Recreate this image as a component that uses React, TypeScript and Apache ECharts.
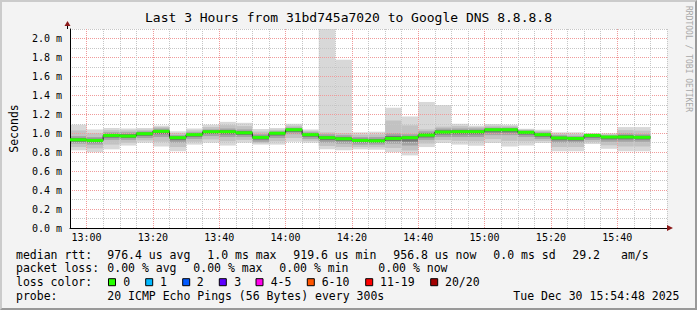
import React, { useEffect, useRef } from 'react';
import * as echarts from 'echarts';

// ---------- data ----------
const stepStarts = [
  '12:55', '13:00', '13:05', '13:10', '13:15', '13:20', '13:25', '13:30', '13:35', '13:40',
  '13:45', '13:50', '13:55', '14:00', '14:05', '14:10', '14:15', '14:20', '14:25', '14:30',
  '14:35', '14:40', '14:45', '14:50', '14:55', '15:00', '15:05', '15:10', '15:15', '15:20',
  '15:25', '15:30', '15:35', '15:40', '15:45',
];
// round-trip times in ms
const rttMin = [
  0.82, 0.80, 0.83, 0.87, 0.90, 0.86, 0.81, 0.88, 0.90, 0.87,
  0.90, 0.88, 0.88, 0.91, 0.90, 0.83, 0.82, 0.83, 0.826, 0.80,
  0.766, 0.854, 0.897, 0.88, 0.868, 0.897, 0.86, 0.87, 0.897, 0.81,
  0.81, 0.886, 0.836, 0.81, 0.81,
];
const rttLow = [
  0.89, 0.88, 0.93, 0.93, 0.95, 0.96, 0.90, 0.94, 0.97, 0.96,
  0.96, 0.91, 0.95, 0.99, 0.94, 0.90, 0.89, 0.88, 0.88, 0.89,
  0.87, 0.93, 0.96, 0.96, 0.96, 0.98, 0.98, 0.96, 0.94, 0.90,
  0.90, 0.93, 0.91, 0.91, 0.91,
];
const rttMedian = [
  0.931, 0.924, 0.977, 0.97, 0.995, 1.02, 0.953, 0.985, 1.016, 1.016,
  1.005, 0.956, 1.0, 1.037, 0.985, 0.953, 0.942, 0.924, 0.92, 0.945,
  0.953, 0.98, 1.013, 1.016, 1.016, 1.037, 1.037, 1.01, 0.985, 0.95,
  0.945, 0.977, 0.96, 0.96, 0.957,
];
const rttHigh = [
  0.97, 0.96, 1.01, 1.01, 1.02, 1.05, 0.98, 1.01, 1.04, 1.05,
  1.04, 0.99, 1.02, 1.06, 1.01, 0.99, 0.98, 0.96, 0.96, 1.0,
  0.99, 1.02, 1.05, 1.05, 1.05, 1.06, 1.06, 1.03, 1.01, 0.98,
  0.97, 0.99, 0.98, 1.0, 0.99,
];
const rttMax = [
  1.09, 1.04, 1.055, 1.05, 1.055, 1.08, 1.02, 1.05, 1.09, 1.12,
  1.11, 1.045, 1.055, 1.10, 1.04, 2.1, 1.775, 1.01, 1.016, 1.269,
  1.177, 1.33, 1.297, 1.10, 1.08, 1.097, 1.09, 1.047, 1.037, 1.01,
  1.01, 1.0, 1.0, 1.065, 1.065,
];
const xTickLabels = ['13:00', '13:20', '13:40', '14:00', '14:20', '14:40', '15:00', '15:20', '15:40'];
const yTickLabels = ['0.0 m', '0.2 m', '0.4 m', '0.6 m', '0.8 m', '1.0 m', '1.2 m', '1.4 m', '1.6 m', '1.8 m', '2.0 m'];

const titleText = 'Last 3 Hours from 31bd745a7020 to Google DNS 8.8.8.8';
const yAxisTitle = 'Seconds';
const creditText = 'RRDTOOL / TOBI OETIKER';
const rttLabel = 'median rtt:';
const rttStats = ['976.4 us avg', '1.0 ms max', '919.6 us min', '956.8 us now', '0.0 ms sd', '29.2', 'am/s'];
const lossLabel = 'packet loss:';
const lossStats = ['0.00 % avg', '0.00 % max', '0.00 % min', '0.00 % now'];
const lossColorLabel = 'loss color:';
const lossLabels = ['0', '1', '2', '3', '4-5', '6-10', '11-19', '20/20'];
const lossColors = ['#26ff00', '#00b8ff', '#0059ff', '#5e00ff', '#ff00ea', '#ff5500', '#ff0000', '#a10000'];
const probeLabel = 'probe:';
const probeText = '20 ICMP Echo Pings (56 Bytes) every 300s';
const dateText = 'Tue Dec 30 15:54:48 2025';

// ---------- layout ----------
const W = 697;
const H = 310;
const MONO = "'DejaVu Sans Mono', monospace";
const STEP_MIN = 5;
const SPAN_MIN = 180;
const MINOR = '#c6c6c6';
const MAJOR = '#f09a9a';
const rttX = [107.3, 207.3, 293.3, 393.3, 493.3, 572.3, 621];
const lossX = [107.3, 193.3, 279.3, 378.3];
const boxX = [108.5, 145.7, 182.7, 219.3, 256, 307.3, 365.7, 430.7];
const boxLabelX = [123.3, 160, 196.7, 234.3, 270.7, 321.7, 380, 445];
const rowY = [254.7, 268.4, 282.2, 296];

const toMin = (s: string) => {
  const [h, m] = s.split(':').map(Number);
  return h * 60 + m;
};

export default function App() {
  const ref = useRef<HTMLDivElement>(null);

  useEffect(() => {
    if (!ref.current) return;
    const chart = echarts.init(ref.current, null, { renderer: 'svg' });

    const starts = stepStarts.map(toMin);
    const xMin = starts[0];
    const xMax = xMin + SPAN_MIN;
    const smokeData = starts.map((s, i) => [s, s + STEP_MIN, rttMin[i], rttLow[i], rttMedian[i], rttHigh[i], rttMax[i]]);
    const medianLine = starts.map((s, i) => [s, rttMedian[i]]);
    medianLine.push([starts[starts.length - 1] + STEP_MIN, rttMedian[rttMedian.length - 1]]);
    const xLabelMap: Record<number, string> = {};
    xTickLabels.forEach((l) => (xLabelMap[toMin(l)] = l));

    const legendFont = { fontFamily: MONO, fontSize: 11.5, fill: '#000', verticalAlign: 'middle', align: 'left' };
    const texts: any[] = [];
    const addText = (text: string, x: number, y: number) =>
      texts.push({ type: 'text', x, y, z: 20, style: { ...legendFont, text } });
    addText(rttLabel, 16, rowY[0]);
    rttStats.forEach((t, i) => addText(t, rttX[i], rowY[0]));
    addText(lossLabel, 16, rowY[1]);
    lossStats.forEach((t, i) => addText(t, lossX[i], rowY[1]));
    addText(lossColorLabel, 16, rowY[2]);
    lossLabels.forEach((t, i) => {
      texts.push({
        type: 'rect', z: 20,
        shape: { x: boxX[i], y: rowY[2] - 3.5, width: 7, height: 7 },
        style: { fill: lossColors[i], stroke: '#000', lineWidth: 1 },
      });
      addText(t, boxLabelX[i], rowY[2]);
    });
    addText(probeLabel, 16, rowY[3]);
    addText(probeText, 107.3, rowY[3]);
    addText(dateText, 513.3, rowY[3]);

    const option: any = {
      animation: false,
      backgroundColor: '#f3f3f3',
      title: {
        text: titleText,
        left: 'center',
        top: 11,
        padding: 0,
        textStyle: { fontFamily: MONO, fontSize: 13, fontWeight: 'normal', color: '#000' },
      },
      grid: { left: 67, right: 30, top: 29, bottom: 82, show: true, backgroundColor: '#ffffff', borderWidth: 0 },
      xAxis: {
        type: 'value', min: xMin, max: xMax, interval: STEP_MIN, z: 3,
        axisLine: { show: true, onZero: false, lineStyle: { color: '#000', width: 1 } },
        axisTick: { show: false },
        axisLabel: {
          fontFamily: MONO, fontSize: 10, color: '#000', margin: 4,
          formatter: (v: number) => xLabelMap[Math.round(v)] ?? '',
        },
        splitLine: { show: true, lineStyle: { color: [MINOR, MAJOR, MINOR, MINOR], type: [1, 1], width: 1 } },
      },
      yAxis: {
        type: 'value', min: 0, max: 2.1, interval: 0.1, z: 3,
        name: yAxisTitle, nameLocation: 'middle', nameRotate: 90, nameGap: 50,
        nameTextStyle: { fontFamily: MONO, fontSize: 11.5, color: '#000' },
        axisLine: { show: true, onZero: false, lineStyle: { color: '#000', width: 1 } },
        axisTick: { show: false },
        axisLabel: {
          fontFamily: MONO, fontSize: 10, color: '#000', margin: 8,
          formatter: (v: number) => {
            const k = Math.round(v * 10);
            return k % 2 === 0 ? yTickLabels[k / 2] ?? '' : '';
          },
        },
        splitLine: { show: true, lineStyle: { color: [MAJOR, MINOR], type: [1, 1], width: 1 } },
      },
      series: [
        {
          type: 'custom', name: 'smoke', z: 2, silent: true, clip: true,
          data: smokeData,
          encode: { x: [0, 1], y: [2, 3, 4, 5, 6] },
          renderItem: (params: any, api: any) => {
            const x0 = api.value(0);
            const x1 = api.value(1);
            const left = api.coord([x0, 0])[0];
            const right = api.coord([x1, 0])[0];
            const yOf = (v: number) => api.coord([x0, v])[1];
            const mn = api.value(2), lo = api.value(3), md = api.value(4), hi = api.value(5), mx = api.value(6);
            const band = (a: number, b: number, fill: string) => ({
              type: 'rect',
              shape: { x: left, y: yOf(b), width: right - left, height: yOf(a) - yOf(b) },
              style: { fill },
            });
            return {
              type: 'group',
              children: [
                band(mn, mx, '#d8d8d8'),
                band((mn + lo) / 2, (hi + mx) / 2 > 1.15 ? hi + 0.02 : (hi + mx) / 2, '#c2c2c2'),
                band(lo, hi, '#a4a4a4'),
                band((lo + md) / 2, (md + hi) / 2, '#747474'),
              ],
            };
          },
        },
        {
          type: 'line', name: 'median-dark', z: 5, silent: true, step: 'end',
          data: medianLine, symbol: 'none',
          lineStyle: { color: '#202020', width: 1 },
        },
        {
          type: 'custom', name: 'median', z: 6, silent: true,
          data: smokeData.map((d) => [d[0], d[1], d[4]]),
          encode: { x: [0, 1], y: 2 },
          renderItem: (params: any, api: any) => {
            const p0 = api.coord([api.value(0), api.value(2)]);
            const p1 = api.coord([api.value(1), api.value(2)]);
            return {
              type: 'rect',
              shape: { x: p0[0], y: p0[1] - 1.5, width: p1[0] - p0[0], height: 3 },
              style: { fill: lossColors[0] },
            };
          },
        },
      ],
      graphic: [
        ...texts,
        {
          type: 'text', x: 688, y: 59, rotation: -Math.PI / 2, z: 20,
          style: { text: creditText, fontFamily: MONO, fontSize: 8, fill: '#a8a8a8', align: 'center', verticalAlign: 'middle' },
        },
        { type: 'line', z: 20, shape: { x1: 67.5, y1: 29, x2: 67.5, y2: 25 }, style: { stroke: '#000', lineWidth: 1 } },
        { type: 'polygon', z: 21, shape: { points: [[64.5, 26], [70.5, 26], [67.5, 21]] }, style: { fill: '#8b1a1a' } },
        { type: 'polygon', z: 21, shape: { points: [[667, 225], [667, 231], [673, 228]] }, style: { fill: '#8b1a1a' } },
      ],
    };
    chart.setOption(option);
    return () => chart.dispose();
  }, []);

  return (
    <div style={{ position: 'fixed', left: 0, top: 0, width: W, height: H, background: '#f3f3f3' }}>
      <div ref={ref} style={{ position: 'absolute', left: 0, top: 0, width: W, height: H }} />
      <div
        style={{
          position: 'absolute', left: 0, top: 0, width: W, height: H, boxSizing: 'border-box',
          borderTop: '2px solid #cbcbcb', borderLeft: '2px solid #cbcbcb',
          borderRight: '2px solid #999', borderBottom: '2px solid #999', pointerEvents: 'none',
        }}
      />
    </div>
  );
}
